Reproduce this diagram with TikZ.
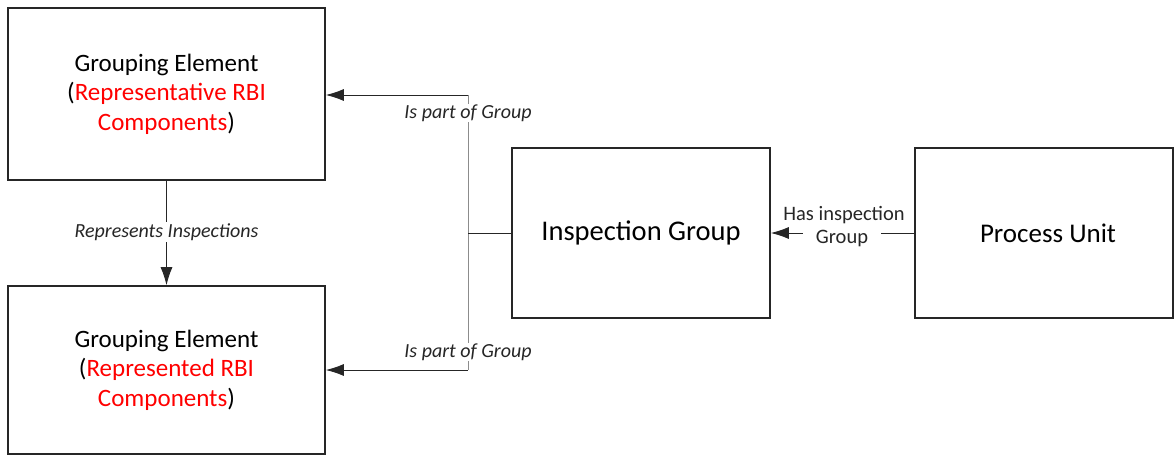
\documentclass[tikz,border=0pt]{standalone}
\usepackage{fontspec}
\setmainfont{Carlito}
\usetikzlibrary{arrows.meta}
\begin{document}
\begin{tikzpicture}[x=1pt,y=-1pt,
  box/.style={draw=black!85, line width=1.6pt, rectangle, inner sep=0pt, align=center},
  conn/.style={draw=black!85, line width=0.9pt},
  junc/.style={draw=black!45, line width=0.9pt},
  arr/.style={-{Latex[length=18pt,width=12pt]}},
  lbl/.style={fill=white, inner sep=1pt, font=\fontsize{20}{22}\selectfont\itshape, text=black!85},
  plbl/.style={inner sep=0pt, font=\fontsize{20.5}{23}\selectfont, text=black!85},
  boxtxt/.style={font=\fontsize{25}{29.5}\selectfont},
  bigtxt/.style={font=\fontsize{28.5}{30}\selectfont}
]
\useasboundingbox (0,0) rectangle (1175,455);
\node[box, boxtxt, minimum width=317pt, minimum height=172pt] (ga) at (166.5,94)
  {Grouping Element\\(\textcolor{red}{Representative RBI}\\\textcolor{red}{Components})};
\node[box, boxtxt, minimum width=317pt, minimum height=168pt] (gb) at (166.5,370)
  {Grouping Element\\(\textcolor{red}{Represented RBI}\\\textcolor{red}{Components})};
\node[box, bigtxt, minimum width=258pt, minimum height=170pt] (ig) at (641,233) {Inspection Group};
\node[box, font=\fontsize{27}{30}\selectfont, minimum width=258pt, minimum height=170pt] (pu) at (1044,233) {\hspace*{8pt}Process Unit};

\coordinate (jt) at (468,95);
\coordinate (jm) at (468,233);
\coordinate (jb) at (468,370);

\draw[junc] (jt) -- (jb);
\draw[conn] (ig.west) -- (jm);
\draw[conn, arr] (jt) -- (ga.east |- jt);
\draw[conn, arr] (jb) -- (gb.east |- jb);
\draw[conn, arr] (pu.west) -- (ig.east);
\draw[conn, arr] (ga.south) -- (gb.north);

\node[lbl] (l1) at (468,113) {Is part of Group};
\node[lbl] (l2) at (468,352) {Is part of Group};
\node[lbl] (l3) at (166.5,232) {Represents Inspections};
\node[plbl] (l4) at (844,215) {Has inspection};
\node[plbl, fill=white, inner xsep=13pt, inner ysep=2pt] (l5) at (842,238) {Group};
\end{tikzpicture}
\end{document}
